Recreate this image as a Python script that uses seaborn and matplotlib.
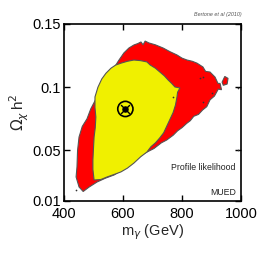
import numpy as np
import matplotlib
matplotlib.use("Agg")
import matplotlib.pyplot as plt
import seaborn as sns

sns.set_theme(style="white")
plt.rcParams["font.family"] = ["Liberation Sans", "DejaVu Sans"]

# 95% region (red) outline
outer_x = [465, 451, 441, 444, 446, 451, 462, 478, 491, 512, 535, 559, 585, 603, 620, 637,
           650, 661, 668, 675, 688, 710, 736, 760, 783, 800, 817, 835, 851, 871, 880,
           895, 912, 922, 929, 934, 923, 910, 895, 884, 870, 856, 840, 828, 816, 800,
           785, 770, 748, 730, 705, 671, 650, 627, 600, 570, 540, 512, 485]
outer_y = [0.0175, 0.0211, 0.029, 0.0369, 0.050, 0.0606, 0.0690, 0.075, 0.083, 0.0923,
           0.102, 0.1112, 0.121, 0.1271, 0.131, 0.1334, 0.1345, 0.1358, 0.1335, 0.1365,
           0.135, 0.1335, 0.131, 0.128, 0.1255, 0.123, 0.1215, 0.1205, 0.119, 0.116,
           0.1125, 0.112, 0.108, 0.103, 0.103, 0.098, 0.0985, 0.093, 0.090, 0.0846,
           0.082, 0.0785, 0.0770, 0.0735, 0.0714, 0.068, 0.0655, 0.0620, 0.0582, 0.0560,
           0.0515, 0.0475, 0.044, 0.040, 0.035, 0.0306, 0.028, 0.025, 0.021]

# 68% region (yellow) outline
inner_x = [502, 498, 498, 500, 502, 506, 508, 505, 505, 515, 528, 542, 559, 575, 593, 615,
           637, 660, 681, 692, 710, 725, 740, 753, 765, 776, 793, 785, 783, 778, 770,
           760, 750, 738, 725, 710, 695, 681, 660, 637, 615, 593, 570, 546, 525]
inner_y = [0.0266, 0.035, 0.0424, 0.052, 0.0606, 0.068, 0.0764, 0.084, 0.0923, 0.100,
           0.1065, 0.111, 0.115, 0.1175, 0.119, 0.1205, 0.1215, 0.121, 0.120, 0.1176,
           0.115, 0.112, 0.109, 0.1057, 0.103, 0.1002, 0.0994, 0.096, 0.0923, 0.086,
           0.080, 0.075, 0.070, 0.064, 0.060, 0.056, 0.053, 0.0487, 0.045, 0.040,
           0.036, 0.033, 0.031, 0.029, 0.027]

# small detached red patches
island_x = [936, 945, 956, 953, 940]
island_y = [0.104, 0.1085, 0.107, 0.1025, 0.1015]
speck_x = [871, 861, 902, 871, 990, 990, 441, 770]
speck_y = [0.0883, 0.107, 0.0955, 0.108, 0.0993, 0.050, 0.0187, 0.092]

best_x = [608]
best_y = [0.0828]

fig = plt.figure(figsize=(2.66, 2.66), dpi=100)
ax = fig.add_axes([0.2406, 0.2444, 0.6654, 0.6654])

edge = "#555555"
ax.fill(outer_x, outer_y, facecolor="#ff0000", edgecolor=edge, linewidth=0.8, zorder=2)
ax.fill(island_x, island_y, facecolor="#ff0000", edgecolor=edge, linewidth=0.8, zorder=2)
ax.fill(inner_x, inner_y, facecolor="#f0f000", edgecolor=edge, linewidth=0.8, zorder=3)
ax.scatter(speck_x, speck_y, s=1.5, color="#333333", linewidths=0, zorder=4)

sns.scatterplot(x=best_x, y=best_y, ax=ax, s=120, marker="o", facecolor="none",
                edgecolor="black", linewidth=1.2, zorder=5)
sns.scatterplot(x=best_x, y=best_y, ax=ax, s=40, marker="x", color="black",
                linewidth=1.0, zorder=6)
sns.scatterplot(x=best_x, y=best_y, ax=ax, s=22, marker="o", color="black",
                linewidth=0, zorder=6)

ax.set_xlim(400, 1000)
ax.set_ylim(0.01, 0.15)
ax.set_xticks([400, 600, 800, 1000])
ax.set_xticklabels(["400", "600", "800", "1000"])
ax.set_yticks([0.01, 0.05, 0.1, 0.15])
ax.set_yticklabels(["0.01", "0.05", "0.1", "0.15"])
ax.tick_params(direction="in", length=4, width=1, labelsize=10.5, colors="black",
               top=True, right=True, bottom=True, left=True)
ax.tick_params(axis="x", pad=4)
ax.tick_params(axis="y", pad=2)
for s in ax.spines.values():
    s.set_color("black")
    s.set_linewidth(1.2)

ax.set_xlabel(r"m$_\gamma$ (GeV)", fontsize=10.5, labelpad=1)
ax.set_ylabel(r"$\Omega_\chi\,$h$^2$", fontsize=11, labelpad=1)

ax.text(0.97, 0.19, "Profile likelihood", transform=ax.transAxes, ha="right",
        va="center", fontsize=6.3, color="#222222")
ax.text(0.97, 0.05, "MUED", transform=ax.transAxes, ha="right", va="center",
        fontsize=6.3, color="#222222")
fig.text(0.908, 0.945, "Bertone et al (2010)", ha="right", va="center",
         fontsize=3.9, style="italic", color="#555555")

fig.savefig("out.png", dpi=100, facecolor="white")
